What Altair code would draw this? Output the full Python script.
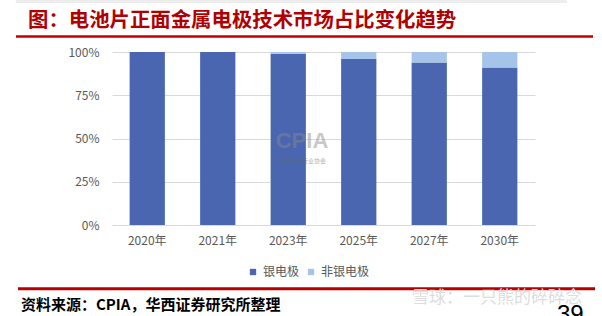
import altair as alt
import pandas as pd

years = ["2020年", "2021年", "2023年", "2025年", "2027年", "2030年"]
silver = [100, 100, 99, 96, 94, 91]
non_silver = [0, 0, 1, 4, 6, 9]
series = ["银电极", "非银电极"]
colors = ["#4A66B0", "#A6C4EA"]
y_ticks = [0, 25, 50, 75, 100]

rows = []
for i, yr in enumerate(years):
    rows.append({"year": yr, "series": series[0], "value": silver[i], "ord": 0})
    rows.append({"year": yr, "series": series[1], "value": non_silver[i], "ord": 1})
df = pd.DataFrame(rows)

FONT = "Noto Sans CJK SC"
W, H = 423, 173
L, T = 112, 52

bars = alt.Chart(df).mark_bar().encode(
    x=alt.X("year:N", sort=years, title=None,
            scale=alt.Scale(paddingInner=0.5, paddingOuter=0.25),
            axis=alt.Axis(labelAngle=0, ticks=False, domain=False, labelPadding=10,
                          labelFontSize=12, labelColor="#595959", labelFont=FONT)),
    y=alt.Y("value:Q", stack="zero", title=None,
            scale=alt.Scale(domain=[0, 100]),
            axis=alt.Axis(values=y_ticks, labelExpr="datum.value + '%'", ticks=False,
                          domain=False, labelPadding=13, labelFontSize=12,
                          labelColor="#595959", labelFont=FONT,
                          gridColor="#D9D9D9", gridWidth=1)),
    color=alt.Color("series:N", sort=series, title=None,
                    scale=alt.Scale(domain=series, range=colors),
                    legend=alt.Legend(orient="none", legendX=135, legendY=214,
                                      direction="horizontal", symbolType="square",
                                      symbolSize=40, symbolStrokeWidth=0,
                                      labelFontSize=12, labelColor="#595959",
                                      labelFont=FONT, columnPadding=5, labelOffset=4)),
    order=alt.Order("ord:Q", sort="ascending"),
)

def txt(s, x, y, size, color, weight="normal", font=FONT, baseline="middle", align="left", opacity=1.0):
    return alt.Chart(pd.DataFrame({"t": [s]})).mark_text(
        align=align, baseline=baseline, fontSize=size, font=font, fontWeight=weight,
        color=color, opacity=opacity
    ).encode(text="t:N", x=alt.value(x), y=alt.value(y))

def rule(x1, x2, y, color, width):
    return alt.Chart(pd.DataFrame({"a": [0]})).mark_rule(color=color, strokeWidth=width).encode(
        x=alt.value(x1), x2=alt.value(x2), y=alt.value(y))

top_strip = alt.Chart(pd.DataFrame({"a": [0]})).mark_rect(color="#EDEDED").encode(
    x=alt.value(16 - L), x2=alt.value(567 - L), y=alt.value(0 - T), y2=alt.value(3 - T))

title = txt("图：电池片正面金属电极技术市场占比变化趋势", 28 - L, 21 - T, 20.4, "#B00000", weight="bold")
top_rule = rule(16 - L, 593 - L, 36.5 - T, "#C00000", 2.5)
bottom_rule = rule(18 - L, 595 - L, 288.8 - T, "#B80000", 3)
source = txt("资料来源：CPIA，华西证券研究所整理", 21 - L, 305 - T, 15, "#000000", weight="bold")
watermark = txt("雪球：一只熊的碎碎念", 412 - L, 298 - T, 17, "#DDDDDD")
page = txt("39", 557 - L, 303 - T, 24, "#000000", font="Liberation Sans", baseline="top")
cpia = txt("CPIA", 302 - L, 141 - T, 22, "#8A8A8A", weight="bold", font="Liberation Sans", align="center", opacity=0.45)
cpia_sub = txt("中国光伏行业协会", 302 - L, 161 - T, 6, "#666666", align="center", opacity=0.5)

chart = alt.layer(
    bars, top_strip, title, top_rule, bottom_rule, source, watermark, page, cpia, cpia_sub
).properties(
    width=W, height=H,
    autosize=alt.AutoSizeParams(type="none"),
    padding={"left": L, "top": T, "right": 602 - L - W, "bottom": 316 - T - H},
    background="white",
).configure_view(stroke=None)

chart.save("out.html", embed_options={"renderer": "svg", "actions": False})
